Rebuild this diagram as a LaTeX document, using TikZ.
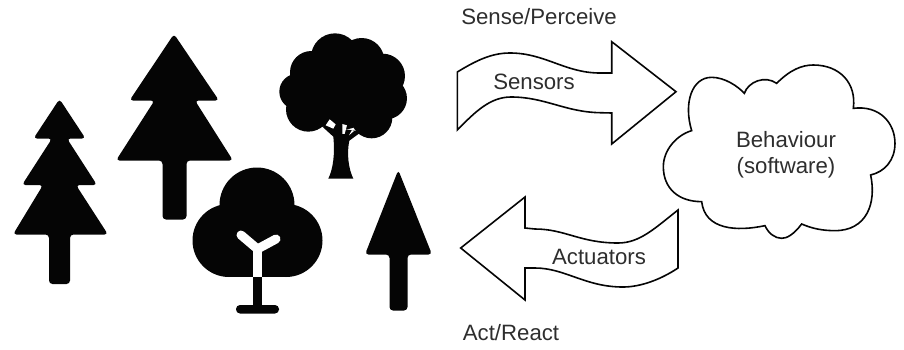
\documentclass[tikz,border=0pt]{standalone}
\usepackage{fontspec}
\setmainfont{Liberation Sans}
\definecolor{ink}{HTML}{050505}
\definecolor{txt}{HTML}{2E2E2E}
\tikzset{
  tree/.style={fill=ink,draw=none},
  soft/.style={rounded corners=3.5pt},
  arrowshape/.style={draw=ink,line width=1.6pt,fill=white,line join=miter},
  cloudshape/.style={draw=ink,line width=1.6pt,fill=white},
  lbl/.style={font=\fontsize{22.2}{26}\selectfont,text=txt,inner sep=0pt,align=center},
  cut/.style={draw=white,line width=9pt,line join=round}
}
\begin{document}
\begin{tikzpicture}[x=1pt,y=-1pt]
\useasboundingbox (0,0) rectangle (904,349);
% small fir
\fill[tree,soft] (59.5,99) -- (85.5,138.5) -- (67,138.5) -- (97,185) -- (76,185) -- (108,234.5) -- (70,234.5) -- (70,284) -- (49,284) -- (49,234.5) -- (13,234.5) -- (43,185) -- (22,185) -- (52,138.5) -- (33.5,138.5) -- cycle;
% large fir
\fill[tree,soft] (174,34) -- (219,100.5) -- (195,100.5) -- (233,160.5) -- (186.5,160.5) -- (186.5,219.5) -- (162.5,219.5) -- (162.5,160.5) -- (116,160.5) -- (154.5,100.5) -- (129.5,100.5) -- cycle;
% cone tree
\fill[tree,soft] (398.3,170) -- (432,254.5) -- (407.5,254.5) -- (407.5,310.5) -- (389.5,310.5) -- (389.5,254.5) -- (365,254.5) -- cycle;
% trefoil tree
\fill[tree] (257,205) circle[radius=37.5];
\fill[tree] (229,240.5) circle[radius=36.5];
\fill[tree] (286,240.5) circle[radius=36.5];
\fill[tree] (229,240) rectangle (286,277);
\fill[tree] (253,277) rectangle (262,308);
\fill[tree,rounded corners=4pt] (236,305) rectangle (279,313.5);
\draw[cut] (257.5,277) -- (257.5,249);
\draw[cut,line cap=round] (241,235) -- (257.5,249) -- (276,239);
% oak
\begin{scope}[shift={(180,20)},x=0.3333pt,y=-0.3333pt]
\fill[tree] (465,112) circle[radius=72];
\fill[tree] (545,122) circle[radius=68];
\fill[tree] (608,168) circle[radius=67];
\fill[tree] (618,235) circle[radius=63];
\fill[tree] (575,293) circle[radius=62];
\fill[tree] (385,268) circle[radius=67];
\fill[tree] (352,215) circle[radius=54];
\fill[tree] (394,157) circle[radius=64];
\fill[tree] (480,210) circle[radius=120];
\fill[tree] (425,318) -- (545,335) -- (508,362) .. controls (500,400) and (505,445) .. (520,476) -- (445,476) .. controls (460,445) and (465,400) .. (460,350) -- cycle;
\fill[white] (449,298) -- (467,313) -- (460,326) -- (437,316) -- cycle;
\fill[white] (487,312) -- (501,316) -- (494,342) -- (487,342) -- cycle;
\fill[white] (516,330) -- (522,333) -- (507,346) -- cycle;
\end{scope}
% sensors arrow
\draw[arrowshape] (457.3,72) .. controls (477,60) and (492,53) .. (510,53) .. controls (545,53) and (565,73) .. (600,73) -- (611.7,73) -- (611.7,41.7) -- (676,91.7) -- (611.7,144) -- (611.7,113) -- (600,112.7) .. controls (565,112) and (545,97) .. (511,97) .. controls (490,97) and (475,112) .. (457.3,130) -- cycle;
% actuators arrow
\draw[arrowshape] (678,210) .. controls (655,228) and (640,243) .. (618,243) .. controls (580,243) and (565,229) .. (535,229) -- (525,228) -- (525,197) -- (460.7,248) -- (525,300) -- (525,268) -- (535,268) .. controls (565,268) and (585,287) .. (623,287) .. controls (640,287) and (660,280) .. (678,268) -- cycle;
% cloud
\begin{scope}[shift={(650,60)},x=0.3333pt,y=-0.3333pt]
\draw[cloudshape] (125,212) .. controls (100,130) and (125,52) .. (185,52) .. controls (225,52) and (265,80) .. (283,100) .. controls (295,65) and (345,45) .. (380,70) .. controls (420,30) and (455,15) .. (490,15) .. controls (570,15) and (620,70) .. (610,145) .. controls (690,135) and (735,190) .. (735,250) .. controls (735,300) and (705,335) .. (662,345) .. controls (680,430) and (650,512) .. (555,512) .. controls (515,512) and (485,505) .. (455,492) .. controls (430,525) and (410,535) .. (395,535) .. controls (375,535) and (355,520) .. (345,497) .. controls (260,515) and (165,510) .. (155,425) .. controls (85,425) and (40,385) .. (40,320) .. controls (40,270) and (80,225) .. (125,212) -- cycle;
\end{scope}
% labels
\node[lbl] (sense) at (539,17) {Sense/Perceive};
\node[lbl] (sensors) at (534,82) {Sensors};
\node[lbl] (actuators) at (599,257) {Actuators};
\node[lbl] (act) at (511,333) {Act/React};
\node[lbl] (beh) at (786,140) {Behaviour};
\node[lbl] (soft) at (786,168) {(software)};
\end{tikzpicture}
\end{document}
